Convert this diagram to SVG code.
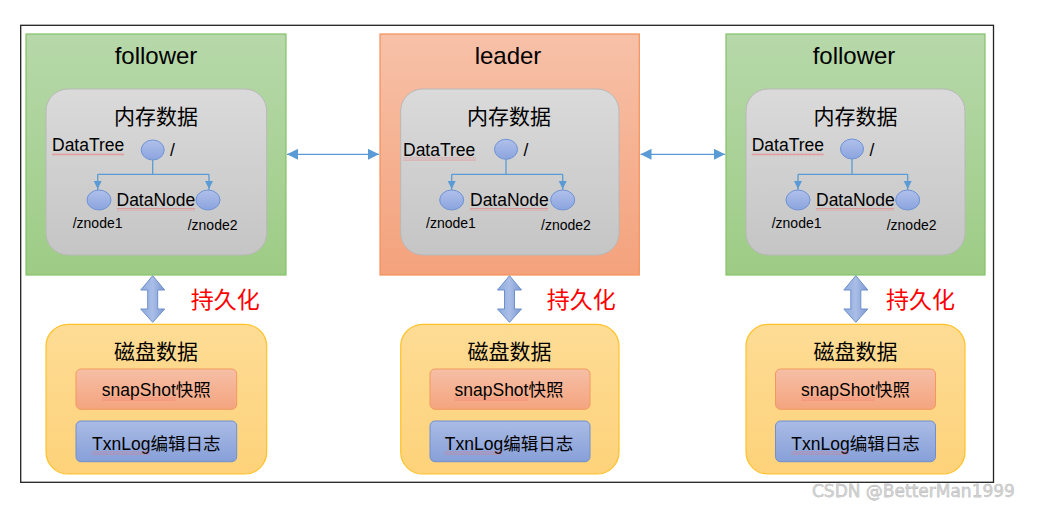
<svg xmlns="http://www.w3.org/2000/svg" width="1039" height="508" viewBox="0 0 1039 508">
<defs>
<linearGradient id="gGreen" x1="0" y1="0" x2="0" y2="1"><stop offset="0" stop-color="#b7d8aa"/><stop offset="1" stop-color="#9dcc85"/></linearGradient>
<linearGradient id="gOrange" x1="0" y1="0" x2="0" y2="1"><stop offset="0" stop-color="#f7c1a8"/><stop offset="1" stop-color="#f4a27c"/></linearGradient>
<linearGradient id="gGray" x1="0" y1="0" x2="0" y2="1"><stop offset="0" stop-color="#dadada"/><stop offset="1" stop-color="#c5c5c5"/></linearGradient>
<linearGradient id="gEll" x1="0" y1="0" x2="0" y2="1"><stop offset="0" stop-color="#b0c0ea"/><stop offset="1" stop-color="#8ba4de"/></linearGradient>
<linearGradient id="gDisk" x1="0" y1="0" x2="0" y2="1"><stop offset="0" stop-color="#fedc95"/><stop offset="1" stop-color="#fdd27a"/></linearGradient>
<linearGradient id="gSnap" x1="0" y1="0" x2="0" y2="1"><stop offset="0" stop-color="#f6bfa6"/><stop offset="1" stop-color="#f4a47f"/></linearGradient>
<linearGradient id="gLog" x1="0" y1="0" x2="0" y2="1"><stop offset="0" stop-color="#aabbe5"/><stop offset="1" stop-color="#87a0d8"/></linearGradient>
<linearGradient id="gBlock" x1="0" y1="0" x2="1" y2="0"><stop offset="0" stop-color="#8eabdf"/><stop offset="0.5" stop-color="#a9bde6"/><stop offset="1" stop-color="#7d99d2"/></linearGradient>
<pattern id="squig" width="4" height="3" patternUnits="userSpaceOnUse"><path d="M0 2.4 L1 0.6 L2 2.4 L3 0.6 L4 2.4" fill="none" stroke="#f06a6a" stroke-width="0.5"/></pattern>
<marker id="big" viewBox="0 0 10 10" refX="10" refY="5" markerWidth="11" markerHeight="11" markerUnits="userSpaceOnUse" orient="auto-start-reverse"><path d="M0 0 L10 5 L0 10 Z" fill="#5b9bd5"/></marker>
</defs>
<style>
.t{font-family:"Liberation Sans","Noto Sans CJK SC",sans-serif;fill:#000}
.title{font-size:24px;text-anchor:middle}
.mem{font-size:21px;text-anchor:middle}
.lbl{font-size:17.5px}
.zn{font-size:14px}
.red{font-family:"Liberation Sans","Noto Sans CJK SC",sans-serif;font-size:23px;fill:#ff0000}
.green{fill:url(#gGreen);stroke:#84c168;stroke-width:1.2}
.orange{fill:url(#gOrange);stroke:#f39059;stroke-width:1.2}
.gray{fill:url(#gGray);stroke:#b8b8b8;stroke-width:1}
.ell{fill:url(#gEll);stroke:#6f93d4;stroke-width:1}
.tree{fill:none;stroke:#5b9bd5;stroke-width:1.3}
.disk{fill:url(#gDisk);stroke:#ffc22a;stroke-width:1.2}
.snap{fill:url(#gSnap);stroke:#f2995f;stroke-width:1}
.log{fill:url(#gLog);stroke:#6f90cf;stroke-width:1}
.block{fill:url(#gBlock);stroke:#6d8fca;stroke-width:1}
.sq{fill:url(#squig)}
.mid{text-anchor:middle}
</style>
<rect x="20.7" y="25.3" width="972.8" height="457" fill="#fff" stroke="#222" stroke-width="1.3"/>

<g id="follower-left">
<rect class="green" x="26" y="34" width="260" height="241"/>
<text class="t title" x="156" y="64">follower</text>
<rect class="gray" x="46" y="89" width="220.7" height="166" rx="22"/>
<text class="t mem" x="156" y="124">内存数据</text>
<text class="t lbl" x="52" y="151">DataTree</text>
<rect class="sq" x="52" y="153" width="72" height="3"/>
<path class="tree" d="M152.7 160 V174.3 M97.7 174.3 H209 M97.7 174.3 V190 M209 174.3 V190" />
<path d="M93.7 181 L101.7 181 L97.7 189 Z M205 181 L213 181 L209 189 Z" fill="#5b9bd5"/>
<ellipse class="ell" cx="152.7" cy="150" rx="11.5" ry="10"/>
<text class="t lbl" x="170" y="156">/</text>
<ellipse class="ell" cx="99" cy="200" rx="12" ry="10"/>
<ellipse class="ell" cx="208" cy="200" rx="12" ry="10"/>
<text class="t lbl" x="116.5" y="206">DataNode</text>
<rect class="sq" x="117" y="208" width="78" height="3"/>
<text class="t zn" x="72.7" y="228">/znode1</text>
<text class="t zn" x="187.7" y="230">/znode2</text>
</g>

<g id="leader">
<rect class="orange" x="380" y="34" width="259.3" height="241"/>
<text class="t title" x="508" y="64">leader</text>
<rect class="gray" x="400.7" y="89" width="218.3" height="166" rx="22"/>
<text class="t mem" x="509" y="124">内存数据</text>
<text class="t lbl" x="403" y="155.5">DataTree</text>
<rect class="sq" x="403" y="157.5" width="73" height="3"/>
<path class="tree" d="M506 159.3 V174.3 M451.7 174.3 H562.7 M451.7 174.3 V190 M562.7 174.3 V190" />
<path d="M447.7 181 L455.7 181 L451.7 189 Z M558.7 181 L566.7 181 L562.7 189 Z" fill="#5b9bd5"/>
<ellipse class="ell" cx="506" cy="149.3" rx="11.5" ry="10"/>
<text class="t lbl" x="523.5" y="156">/</text>
<ellipse class="ell" cx="451.7" cy="200" rx="12" ry="10"/>
<ellipse class="ell" cx="562.7" cy="200" rx="12" ry="10"/>
<text class="t lbl" x="470" y="206">DataNode</text>
<rect class="sq" x="470" y="208" width="78" height="3"/>
<text class="t zn" x="426" y="227.7">/znode1</text>
<text class="t zn" x="541" y="229.5">/znode2</text>
</g>

<g id="follower-right">
<rect class="green" x="726" y="34" width="259" height="241"/>
<text class="t title" x="854" y="64">follower</text>
<rect class="gray" x="746" y="89" width="219" height="166" rx="22"/>
<text class="t mem" x="855.5" y="124">内存数据</text>
<text class="t lbl" x="751.7" y="151">DataTree</text>
<rect class="sq" x="751.7" y="153" width="72" height="3"/>
<path class="tree" d="M852 159 V174.3 M798 174.3 H907.7 M798 174.3 V190 M907.7 174.3 V190" />
<path d="M794 181 L802 181 L798 189 Z M903.7 181 L911.7 181 L907.7 189 Z" fill="#5b9bd5"/>
<ellipse class="ell" cx="852" cy="149" rx="11.5" ry="10"/>
<text class="t lbl" x="869.5" y="156">/</text>
<ellipse class="ell" cx="798" cy="200" rx="12" ry="10"/>
<ellipse class="ell" cx="907.7" cy="200" rx="12" ry="10"/>
<text class="t lbl" x="816" y="206">DataNode</text>
<rect class="sq" x="816" y="208" width="78" height="3"/>
<text class="t zn" x="771.7" y="228">/znode1</text>
<text class="t zn" x="886.7" y="230">/znode2</text>
</g>

<g id="disk-left">
<rect class="disk" x="46" y="324.3" width="220.7" height="149.7" rx="22"/>
<text class="t mem" x="156" y="359">磁盘数据</text>
<rect class="snap" x="76" y="369" width="160.7" height="40.3" rx="5"/>
<text class="t lbl mid" x="156.3" y="396">snapShot快照</text>
<rect class="sq" x="101.8" y="397.5" width="74" height="3"/>
<rect class="log" x="76" y="421" width="160.7" height="40.7" rx="5"/>
<text class="t lbl mid" x="156.3" y="450">TxnLog编辑日志</text>
<rect class="sq" x="91.7" y="451.5" width="58" height="3"/>
</g>

<g id="disk-leader">
<rect class="disk" x="400.7" y="324.3" width="218.3" height="149.7" rx="22"/>
<text class="t mem" x="509.5" y="359">磁盘数据</text>
<rect class="snap" x="430" y="369" width="160" height="40.3" rx="5"/>
<text class="t lbl mid" x="509" y="396">snapShot快照</text>
<rect class="sq" x="454.5" y="397.5" width="74" height="3"/>
<rect class="log" x="430" y="421" width="160" height="40.7" rx="5"/>
<text class="t lbl mid" x="509" y="450">TxnLog编辑日志</text>
<rect class="sq" x="444.5" y="451.5" width="58" height="3"/>
</g>

<g id="disk-right">
<rect class="disk" x="746" y="324.3" width="219" height="149.7" rx="22"/>
<text class="t mem" x="855.5" y="359">磁盘数据</text>
<rect class="snap" x="775.5" y="369" width="160" height="40.3" rx="5"/>
<text class="t lbl mid" x="855.5" y="396">snapShot快照</text>
<rect class="sq" x="801" y="397.5" width="74" height="3"/>
<rect class="log" x="775.5" y="421" width="160" height="40.7" rx="5"/>
<text class="t lbl mid" x="855.5" y="450">TxnLog编辑日志</text>
<rect class="sq" x="791" y="451.5" width="58" height="3"/>
</g>

<g id="connectors">
<line x1="287" y1="154.3" x2="379" y2="154.3" stroke="#5b9bd5" stroke-width="1.3" marker-start="url(#big)" marker-end="url(#big)"/>
<line x1="640.5" y1="154.3" x2="725" y2="154.3" stroke="#5b9bd5" stroke-width="1.3" marker-start="url(#big)" marker-end="url(#big)"/>
<polygon class="block" points="152.7,275.7 164.7,290 157.7,290 157.7,309 164.7,309 152.7,322.3 140.7,309 147.7,309 147.7,290 140.7,290"/>
<polygon class="block" points="509.5,275.7 521.5,290 514.5,290 514.5,309 521.5,309 509.5,322.3 497.5,309 504.5,309 504.5,290 497.5,290"/>
<polygon class="block" points="855.8,275.7 867.8,290 860.8,290 860.8,309 867.8,309 855.8,322.3 843.8,309 850.8,309 850.8,290 843.8,290"/>
<text class="red" x="190.7" y="308.3">持久化</text>
<text class="red" x="546.7" y="308.3">持久化</text>
<text class="red" x="886" y="308.3">持久化</text>
</g>

<text x="812" y="496.7" font-family="'DejaVu Sans',sans-serif" font-size="17" fill="#cfcfcf" stroke="#8a8a8a" stroke-width="0.35" paint-order="stroke">CSDN @BetterMan1999</text>
</svg>
